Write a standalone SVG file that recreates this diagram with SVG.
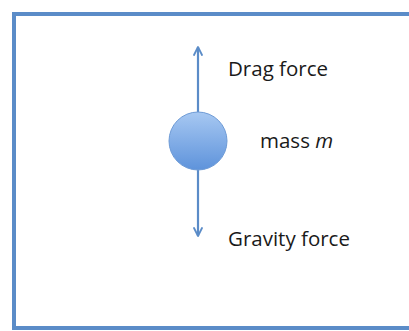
<svg xmlns="http://www.w3.org/2000/svg" width="409" height="331" viewBox="0 0 409 331">
  <defs>
    <linearGradient id="ball" x1="0" y1="0" x2="0" y2="1">
      <stop offset="0" stop-color="#A7C8F2"/>
      <stop offset="1" stop-color="#5E93DB"/>
    </linearGradient>
    <marker id="head" viewBox="0 0 10 10" refX="9" refY="5" markerWidth="10" markerHeight="10" markerUnits="userSpaceOnUse" orient="auto">
      <path d="M1,1 L9,5 L1,9" fill="none" stroke="#5B8CC8" stroke-width="1.8" stroke-linecap="round" stroke-linejoin="round"/>
    </marker>
    <style>
      .frame { fill: #ffffff; stroke: #5B8CC8; stroke-width: 4; }
      .force { stroke: #5B8CC8; stroke-width: 2.2; fill: none; marker-end: url(#head); }
      .label { font-family: "Open Sans", "Liberation Sans", sans-serif; font-size: 20.5px; fill: #1a1a1a; }
    </style>
  </defs>
  <rect class="frame" x="14" y="14" width="420" height="314"/>
  <g id="connectors">
    <line class="force" x1="198" y1="112" x2="198" y2="47"/>
    <line class="force" x1="198" y1="170" x2="198" y2="236"/>
  </g>
  <g id="mass">
    <circle cx="198" cy="141" r="29" fill="url(#ball)" stroke="#6E9BD6" stroke-width="1"/>
    <text class="label" x="260" y="148">mass <tspan font-style="italic">m</tspan></text>
  </g>
  <g id="drag">
    <text class="label" x="228" y="76">Drag force</text>
  </g>
  <g id="gravity">
    <text class="label" x="228" y="246">Gravity force</text>
  </g>
</svg>
